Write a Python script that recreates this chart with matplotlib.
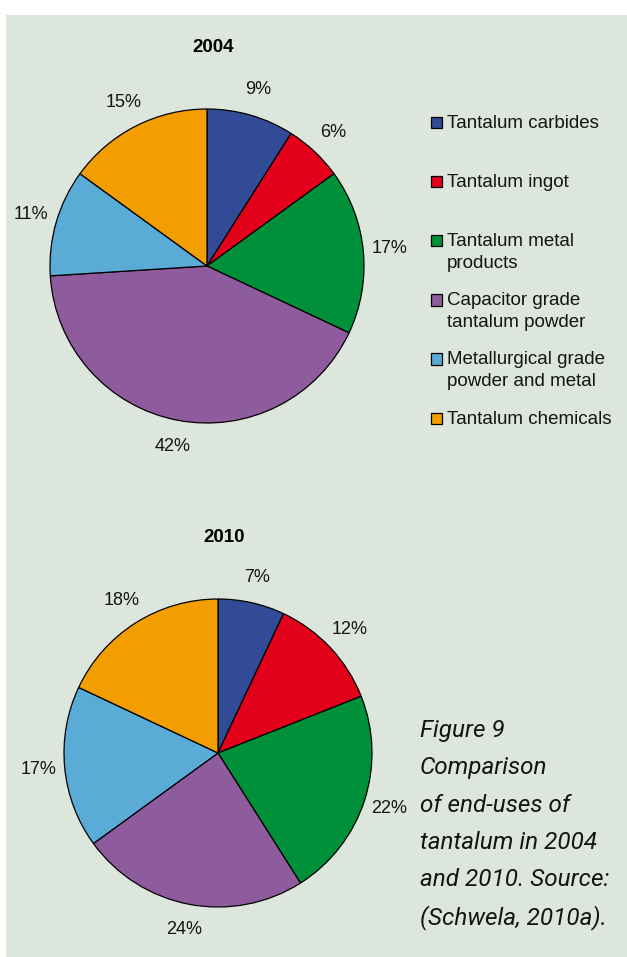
import matplotlib.pyplot as plt
from matplotlib.patches import Rectangle

## Figure Size In Pixels
W, H = 627, 957
DPI = 100

## Data
categories = ['Tantalum carbides', 'Tantalum ingot', 'Tantalum metal\nproducts',
              'Capacitor grade\ntantalum powder', 'Metallurgical grade\npowder and metal',
              'Tantalum chemicals']
values2004 = [9, 6, 17, 42, 11, 15]
values2010 = [7, 12, 22, 24, 17, 18]
years = ['2004', '2010']
captionLines = ['Figure 9', 'Comparison', 'of end-uses of', 'tantalum in 2004',
                'and 2010. Source:', '(Schwela, 2010a).']

## Colors
colors = ['#314b97', '#e2001a', '#00903a', '#8e5b9c', '#5aacd6', '#f39e00']
BACKGROUND = '#dde6dd'

plt.rcParams['font.family'] = ['Liberation Sans', 'DejaVu Sans']

fig = plt.figure(figsize=(W / DPI, H / DPI), dpi=DPI)
fig.patch.set_facecolor('white')

# Overlay axes in pixel coordinates (y down) for panel, legend and caption
overlay = fig.add_axes([0, 0, 1, 1])
overlay.set_xlim(0, W)
overlay.set_ylim(H, 0)
overlay.axis('off')
overlay.add_patch(Rectangle((6, 15), W - 6, H - 15, facecolor=BACKGROUND, edgecolor='none', zorder=0))


## Draw one pie with center (cx, cy) and radius r given in pixels
def DrawPie(values, title, cx, cy, r, titleY):
    ax = fig.add_axes([(cx - r) / W, 1 - (cy + r) / H, 2 * r / W, 2 * r / H])
    ax.set_facecolor('none')
    wedges, texts = ax.pie(values, labels=[f'{v}%' for v in values], colors=colors,
                           startangle=90, counterclock=False, labeldistance=1.17,
                           wedgeprops={'edgecolor': 'black', 'linewidth': 0.9},
                           textprops={'fontsize': 13, 'color': '#141414'})
    for t in texts:
        t.set_horizontalalignment('center')
        t.set_verticalalignment('center')
    ax.set_xlim(-1, 1)
    ax.set_ylim(-1, 1)
    ax.set_aspect('equal')
    overlay.text(cx + 6, titleY, title, ha='center', va='center', fontsize=13.5,
                 fontweight='bold', color='black')


DrawPie(values2004, years[0], 207, 266, 157, 47)
DrawPie(values2010, years[1], 218, 753, 154, 538)

# Legend: first text line of each entry evenly spaced
for i, (label, color) in enumerate(zip(categories, colors)):
    y = 122.5 + i * 59.2
    overlay.add_patch(Rectangle((430.5, y - 6), 11.5, 11.5, facecolor=color,
                                edgecolor='black', linewidth=0.9, zorder=3))
    overlay.text(447, y - 8, label, ha='left', va='top', fontsize=13.5,
                 color='#141414', linespacing=1.4)

# Caption
for i, line in enumerate(captionLines):
    overlay.text(420, 730 + i * 37.5, line, ha='left', va='center', fontsize=17.5,
                 family=['Roboto', 'DejaVu Sans'], fontweight='normal', style='italic',
                 color='#141414')

plt.savefig('out.png', dpi=DPI, facecolor=fig.get_facecolor())
